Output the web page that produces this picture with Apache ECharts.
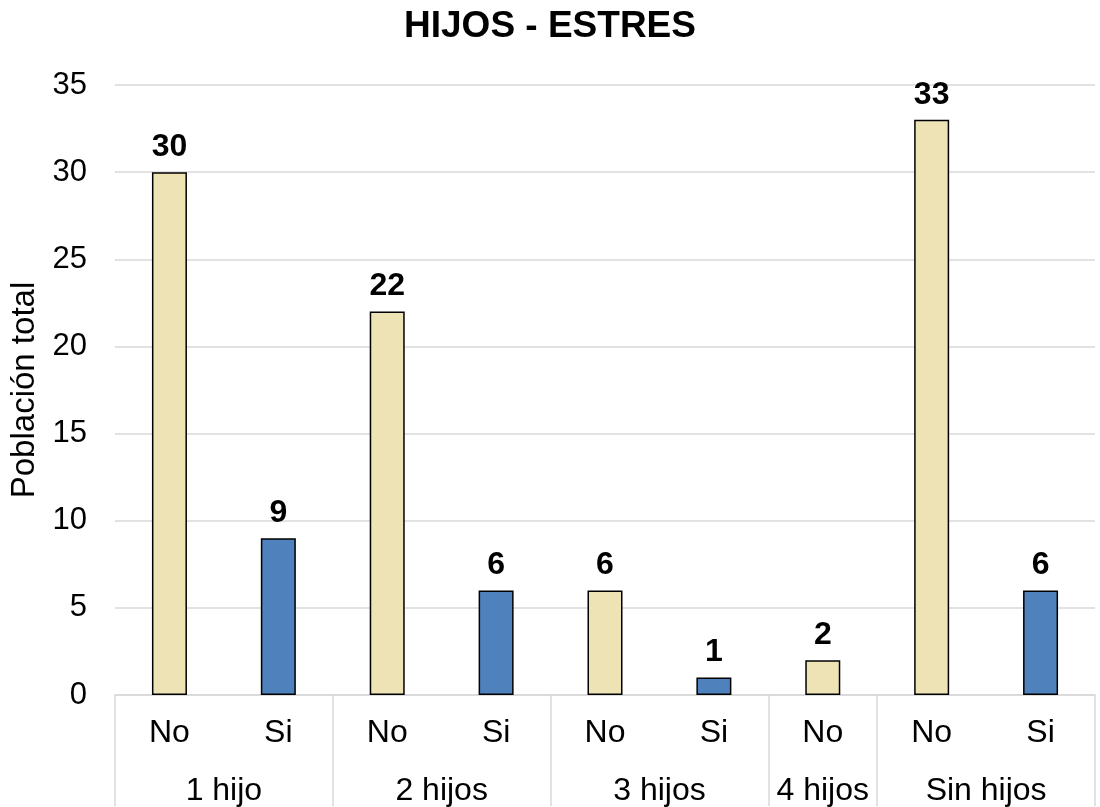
<!DOCTYPE html>
<html>
<head>
<meta charset="utf-8">
<title>HIJOS - ESTRES</title>
<script src="https://cdn.jsdelivr.net/npm/echarts@6/dist/echarts.min.js"></script>
<style>
  html, body { margin: 0; padding: 0; background: #fff; }
  #chart { width: 1100px; height: 807px; }
</style>
</head>
<body>
<div id="chart"></div>
<script>
// one entry per bar, left to right
const groupOf = ["1 hijo", "1 hijo", "2 hijos", "2 hijos", "3 hijos", "3 hijos", "4 hijos", "Sin hijos", "Sin hijos"];
const answers = ["No", "Si", "No", "Si", "No", "Si", "No", "No", "Si"];
const values = [30, 9, 22, 6, 6, 1, 2, 33, 6];
const yTicks = [0, 5, 10, 15, 20, 25, 30, 35];

const answerColors = { No: "#EDE3B5", Si: "#4F81BD" };
const font = 'Arial, "Liberation Sans", sans-serif';

// group boundaries / centres in category units (0..n)
const bounds = [0];
const centres = [];
const centreNames = {};
groupOf.forEach((g, i) => {
  if (i > 0 && g !== groupOf[i - 1]) bounds.push(i);
});
bounds.push(groupOf.length);
for (let k = 0; k < bounds.length - 1; k++) {
  const c = (bounds[k] + bounds[k + 1]) / 2;
  centres.push(c);
  centreNames[c] = groupOf[bounds[k]];
}

const chart = echarts.init(document.getElementById("chart"));

chart.setOption({
  animation: false,
  textStyle: { fontFamily: font, color: "#000" },
  title: {
    text: "HIJOS - ESTRES",
    left: "center",
    top: 3,
    textStyle: { fontFamily: font, fontSize: 37, fontWeight: "bold", color: "#000" },
  },
  grid: { left: 114, right: 5, top: 85, bottom: 111 },
  xAxis: [
    {
      type: "category",
      data: answers,
      axisLine: { lineStyle: { color: "#d9d9d9", width: 1.5 } },
      axisTick: { show: false },
      axisLabel: { interval: 0, fontSize: 32, color: "#000", margin: 22, fontFamily: font },
    },
    {
      type: "value",
      min: 0,
      max: groupOf.length,
      position: "bottom",
      axisLine: { show: false },
      splitLine: { show: false },
      axisTick: {
        show: true,
        customValues: bounds,
        length: 111,
        lineStyle: { color: "#d9d9d9", width: 1.5 },
      },
      axisLabel: {
        customValues: centres,
        fontSize: 32,
        color: "#000",
        margin: 80,
        fontFamily: font,
        formatter: v => centreNames[v] || "",
      },
    },
  ],
  yAxis: {
    type: "value",
    min: yTicks[0],
    max: yTicks[yTicks.length - 1],
    interval: yTicks[1] - yTicks[0],
    name: "Población total",
    nameLocation: "middle",
    nameGap: 74,
    nameTextStyle: { fontSize: 33, color: "#000", fontFamily: font },
    axisLine: { show: false },
    axisTick: { show: false },
    axisLabel: { fontSize: 31, color: "#000", margin: 28, fontFamily: font },
    splitLine: { lineStyle: { color: "#d9d9d9", width: 1.5 } },
  },
  series: [
    {
      type: "bar",
      xAxisIndex: 0,
      barWidth: 35,
      data: values.map((v, i) => ({
        value: v,
        itemStyle: { color: answerColors[answers[i]] },
      })),
      itemStyle: { borderColor: "#000", borderWidth: 1.5 },
      label: {
        show: true,
        position: "top",
        distance: 9,
        fontSize: 32,
        fontWeight: "bold",
        color: "#000",
        fontFamily: font,
      },
    },
  ],
});
</script>
</body>
</html>
